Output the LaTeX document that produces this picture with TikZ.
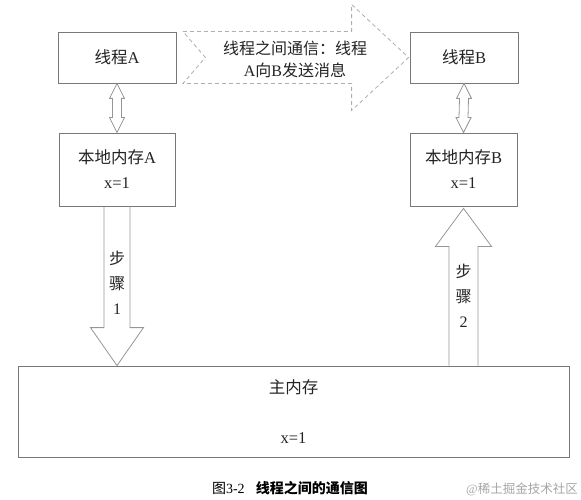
\documentclass[tikz,border=0pt]{standalone}
\usepackage{fontspec}
\setmainfont{Liberation Serif}
\newfontfamily\cjk{Noto Sans CJK SC}
\usetikzlibrary{calc}
\definecolor{boxgray}{RGB}{120, 120, 120}
\definecolor{arrowgray}{RGB}{150, 150, 150}
\definecolor{dashgray}{RGB}{175, 175, 175}
\definecolor{textdark}{RGB}{35, 35, 35}
\definecolor{markgray}{RGB}{165, 165, 165}

\begin{document}
\begin{tikzpicture}[x=1pt, y=-1pt,
        box/.style={draw=boxgray, line width=0.8pt, align=center, inner sep=0pt, text=textdark,
            font=\fontsize{16.5}{25}\selectfont},
        hollow/.style={draw=arrowgray, line width=0.8pt, line join=miter},
        steplabel/.style={align=center, text=textdark, font=\fontsize{16}{25}\selectfont}]
        \useasboundingbox (0,0) rectangle (581,500);

        % Threads and their local memories
        \node[box, minimum width=118pt, minimum height=51pt] (ta) at (117, 57.5) {{\cjk 线程}A};
        \node[box, minimum width=116pt, minimum height=73pt] (la) at (117, 169.5) {{\cjk 本地内存}A\\x=1};
        \node[box, minimum width=108pt, minimum height=51pt] (tb) at (464, 57.5) {{\cjk 线程}B};
        \node[box, minimum width=107pt, minimum height=73pt] (lb) at (463.5, 169.5) {{\cjk 本地内存}B\\x=1};

        % Main memory
        \node[box, minimum width=551pt, minimum height=91pt] (mm) at (293.5, 411.5) {{\cjk 主内存}\\[25pt]x=1};

        % Double arrows between thread and local memory
        \draw[hollow] (ta.south) -- ++(7.5,15) -- ++(-3,0) -- ($(la.north)+(4.5,-15)$) -- ++(3,0)
            -- (la.north) -- ++(-7.5,-15) -- ++(3,0) -- ($(ta.south)+(-4.5,15)$) -- ++(-3,0) -- cycle;
        \draw[hollow] (tb.south) -- ++(7.5,15) -- ++(-3,0) -- ($(lb.north)+(4.5,-15)$) -- ++(3,0)
            -- (lb.north) -- ++(-7.5,-15) -- ++(3,0) -- ($(tb.south)+(-4.5,15)$) -- ++(-3,0) -- cycle;

        % Dashed arrow: A sends a message to B
        \draw[hollow, draw=dashgray, dash pattern=on 4pt off 3pt]
            ($(ta.east)+(6.5,-26)$) -- ($(tb.west)+(-58,-26)$) -- ++(0,-27) -- ($(tb.west)+(-1,0)$)
            -- ++(-57,53) -- ++(0,-27) -- ($(ta.east)+(6.5,26)$) -- ($(ta.east)+(29,0)$) -- cycle;
        \node[steplabel, font=\fontsize{16}{22}\selectfont] (msg) at (295, 59)
            {{\cjk 线程之间通信：线程}\\A{\cjk 向}B{\cjk 发送消息}};

        % Step 1: local memory A -> main memory
        \draw[hollow] ($(la.south)+(-13,0)$) -- ($(la.south |- mm.north)+(-13,-38)$) -- ++(-13.5,0)
            -- (la.south |- mm.north) -- ++(26.5,-38) -- ++(-13.5,0) -- ($(la.south)+(13,0)$);
        \node[steplabel] (s1) at (117, 283) {{\cjk 步}\\{\cjk 骤}\\1};

        % Step 2: main memory -> local memory B
        \draw[hollow] ($(lb.south |- mm.north)+(-14.5,0)$) -- ($(lb.south)+(-14.5,40)$) -- ++(-13.5,0)
            -- ($(lb.south)+(0,2)$) -- ++(28,38) -- ++(-13.5,0) -- ($(lb.south |- mm.north)+(14.5,0)$);
        \node[steplabel] (s2) at (463.5, 296) {{\cjk 步}\\{\cjk 骤}\\2};

        % Caption and mark
        \node[text=black, font=\fontsize{14}{16}\selectfont] (cap) at (290, 488)
            {{\cjk 图}3-2\hspace{0.8em}{\cjk\bfseries 线程之间的通信图}};
        \node[text=markgray, font=\fontsize{12.5}{14}\selectfont] (wm) at (522, 489)
            {@{\cjk 稀土掘金技术社区}};
\end{tikzpicture}
\end{document}
